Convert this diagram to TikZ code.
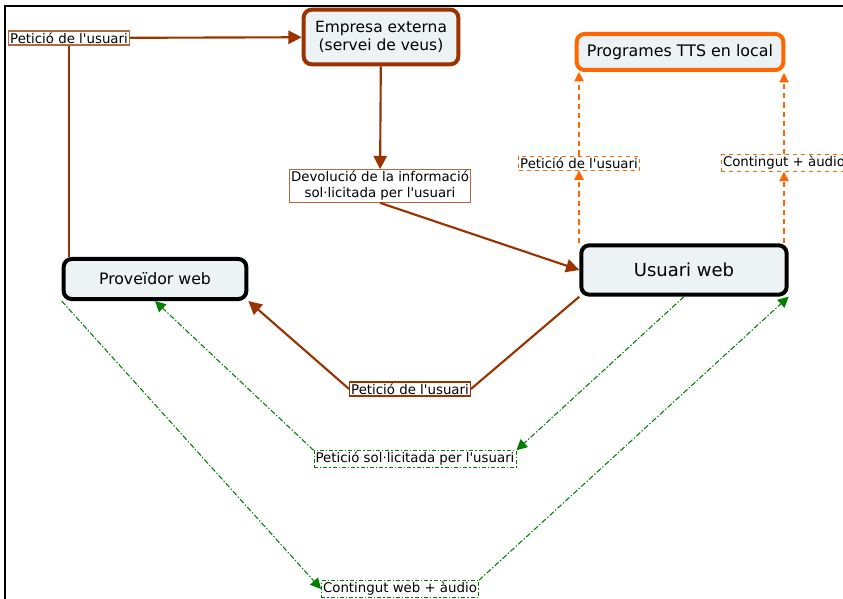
\documentclass[tikz,border=0pt]{standalone}
\usepackage{fontspec}
\setmainfont{DejaVu Sans}[Ligatures=TeXOff]
\usetikzlibrary{positioning, arrows.meta}
\definecolor{marro}{HTML}{993300}
\definecolor{marroclar}{HTML}{B5683F}
\definecolor{taronja}{HTML}{FF6600}
\definecolor{verd}{HTML}{008000}
\definecolor{fons}{HTML}{EDF2F5}
\tikzstyle{concept} = [rectangle, rounded corners=6pt, line width=3pt, fill=fons, text centered, align=center, inner sep=2pt]
\tikzstyle{enllac} = [rectangle, fill=white, inner sep=1.2pt, align=center, font=\fontsize{10}{12}\selectfont]
\tikzstyle{fletxam} = [line width=1.6pt, draw=marro, -{Triangle[length=10pt,width=10pt,fill=marro]}]
\tikzstyle{liniam} = [line width=1.6pt, draw=marro]
\tikzstyle{fletxat} = [line width=0.9pt, draw=taronja, dashed, dash pattern=on 4pt off 3pt, -{Triangle[length=7pt,width=7pt,fill=taronja]}]
\tikzstyle{fletxav} = [line width=0.8pt, draw=verd, dash pattern=on 4pt off 1.5pt on 1pt off 1.5pt, -{Triangle[length=8pt,width=8pt,fill=verd]}]
\tikzstyle{liniav} = [line width=0.8pt, draw=verd, dash pattern=on 4pt off 1.5pt on 1pt off 1.5pt]

\begin{document}
\begin{tikzpicture}[x=0.75pt, y=-0.75pt]
  		\useasboundingbox (0,0) rectangle (843,599);
  		\draw [line width=1pt] (5,599) -- (5,6) -- (843,6);
  		%definir els conceptes
  		\node (empresa) [concept, draw=marro, minimum width=116pt, minimum height=41pt, font=\fontsize{11.6}{14}\selectfont] at (381,37) {Empresa externa\\(servei de veus)};
  		\node (tts) [concept, draw=taronja, minimum width=155pt, minimum height=27pt, font=\fontsize{11.9}{14}\selectfont] at (680,52) {Programes TTS en local};
  		\node (usuari) [concept, draw=black, minimum width=154pt, minimum height=37pt, font=\fontsize{13.5}{16}\selectfont] at (684,270) {Usuari web};
  		\node (proveidor) [concept, draw=black, minimum width=137pt, minimum height=30pt, font=\fontsize{11.8}{14}\selectfont] at (155,279) {Proveïdor web};
  		
  		%etiquetes dels enllaços
  		\node (petA) [enllac, draw=marroclar, line width=0.8pt] at (69,38) {Petició de l'usuari};
  		\node (devol) [enllac, draw=marroclar, line width=0.8pt] at (380,186) {Devolució de la informació\\sol·licitada per l'usuari};
  		\node (petB) [enllac, draw=marro, line width=0.8pt] at (410,389) {Petició de l'usuari};
  		\node (petT) [enllac, draw=taronja, dashed, line width=0.6pt] at (579,163) {Petició de l'usuari};
  		\node (contT) [enllac, draw=taronja, dashed, line width=0.6pt, anchor=west] at (721,163) {Contingut + àudio};
  		\node (solic) [enllac, draw=verd, line width=0.6pt, dash pattern=on 3pt off 1.5pt on 1pt off 1.5pt] at (415,459) {Petició sol·licitada per l'usuari};
  		\node (contW) [enllac, draw=verd, line width=0.6pt, dash pattern=on 3pt off 1.5pt on 1pt off 1.5pt] at (400,589) {Contingut web + àudio};
  		
  		%connectar els conceptes
  		\draw [fletxam] (petA) -- (empresa);
  		\draw [liniam] (petA.south) -- (petA.south |- proveidor.north);
  		\draw [fletxam] (empresa) -- (devol);
  		\draw [fletxam] (devol.south) -- (usuari.west);
  		\draw [liniam] (usuari.south west) -- (petB.east);
  		\draw [fletxam] (petB.west) -- (proveidor.south east);
  		\draw [fletxat] (petT.south |- usuari.north) -- (petT.south);
  		\draw [fletxat] (petT.north) -- (petT.north |- tts.south);
  		\draw [fletxat] (784,243) -- (contT.south -| 784,0);
  		\draw [fletxat] (contT.north -| 784,0) -- (784,73);
  		\draw [fletxav] (usuari.south) -- (solic.north east);
  		\draw [fletxav] (solic.north west) -- (proveidor.south);
  		\draw [fletxav] (proveidor.south west) -- (contW.west);
  		\draw [fletxav] (contW.north east) -- (usuari.south east);
  	\end{tikzpicture}
\end{document}
